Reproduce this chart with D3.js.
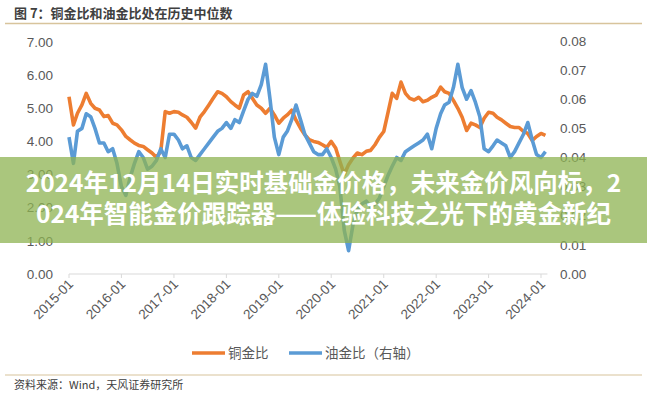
<!DOCTYPE html>
<html>
<head>
<meta charset="utf-8">
<script src="https://cdn.jsdelivr.net/npm/d3@7"></script>
<style>
  body { margin: 0; background: #fff; }
  svg { display: block; }
</style>
</head>
<body>
<svg width="647" height="400"></svg>
<script>
const svg = d3.select("svg");

const width = 647;
const height = 400;

// chart text
const title = "图 7：铜金比和油金比处在历史中位数";
const source = "资料来源：Wind，天风证券研究所";
const seriesNames = ["铜金比", "油金比（右轴）"];
const bannerLines = [
    "2024年12月14日实时基础金价格，未来金价风向标，2",
    "024年智能金价跟踪器——体验科技之光下的黄金新纪"
];

// months 2015-01 .. 2024-02
const firstMonth = "2015-01";
const lastMonth = "2024-02";
const tickYears = ["2015-01", "2016-01", "2017-01", "2018-01", "2019-01",
    "2020-01", "2021-01", "2022-01", "2023-01", "2024-01"];
const leftTicks = [0, 1, 2, 3, 4, 5, 6, 7];
const rightTicks = [0, 0.01, 0.02, 0.03, 0.04, 0.05, 0.06, 0.07, 0.08];

// copper / gold (left axis)
const copperGold = [
    5.35, 4.5, 4.85, 5.1, 5.45, 5.15, 5.0, 4.95, 4.75, 4.78,
    4.55, 4.5, 4.35, 4.15, 4.05, 3.95, 3.88, 3.85, 3.75, 3.65,
    3.52, 3.7, 4.9, 4.85, 4.9, 4.88, 4.8, 4.73, 4.58, 4.4,
    4.73, 4.9, 5.1, 5.3, 5.5, 5.45, 5.35, 5.2, 5.1, 5.0,
    5.4, 5.5, 5.3, 5.1, 5.0, 4.85, 5.0, 4.8, 4.55, 4.7,
    4.8, 4.94, 4.64, 4.4, 4.2, 4.05, 4.0, 3.97, 3.9, 3.82,
    4.0, 3.8, 3.4, 3.0, 3.3, 3.5, 3.65, 3.6, 3.7, 3.73,
    3.9, 4.12, 4.3, 4.9, 5.45, 5.3, 5.79, 5.45, 5.3, 5.25,
    5.33, 5.2, 5.24, 5.33, 5.4, 5.64, 5.5, 5.45, 5.24, 5.0,
    4.73, 4.33, 4.55, 4.5, 4.42, 4.7, 4.88, 4.85, 4.73, 4.65,
    4.55, 4.45, 4.42, 4.42, 4.3, 4.24, 4.03, 4.15, 4.24, 4.18
];

// oil / gold (right axis)
const oilGold = [
    0.047, 0.038, 0.049, 0.050, 0.055, 0.054, 0.050, 0.045, 0.045, 0.042,
    0.043, 0.038, 0.030, 0.027, 0.033, 0.038, 0.042, 0.040, 0.036, 0.037,
    0.039, 0.043, 0.040, 0.048, 0.048, 0.046, 0.043, 0.044, 0.040, 0.039,
    0.041, 0.043, 0.045, 0.047, 0.049, 0.050, 0.052, 0.050, 0.053, 0.052,
    0.056, 0.060, 0.062, 0.061, 0.065, 0.072, 0.060, 0.047, 0.041, 0.047,
    0.049, 0.053, 0.058, 0.053, 0.048, 0.045, 0.042, 0.041, 0.041, 0.043,
    0.040, 0.036, 0.030, 0.015, 0.008, 0.017, 0.022, 0.024, 0.025, 0.023,
    0.024, 0.026, 0.030, 0.034, 0.037, 0.040, 0.039, 0.042, 0.043, 0.044,
    0.045, 0.046, 0.048, 0.043, 0.050, 0.055, 0.058, 0.059, 0.064, 0.072,
    0.064, 0.060, 0.063, 0.059, 0.054, 0.043, 0.042, 0.044, 0.046, 0.045,
    0.044, 0.040, 0.042, 0.045, 0.048, 0.052, 0.046, 0.041, 0.040, 0.042
];

const parseMonth = d3.timeParse("%Y-%m");
const months = d3.timeMonth.range(parseMonth(firstMonth), d3.timeMonth.offset(parseMonth(lastMonth), 1));

const orange = "#ed7d31";
const blue = "#5b9bd5";
const axisGrey = "#595959";
const latin = "Liberation Sans, Arial, sans-serif";
const cjk = "'Noto Sans CJK SC', 'Noto Sans', sans-serif";

const x = d3.scaleTime()
    .domain([parseMonth(tickYears[0]), parseMonth(tickYears[tickYears.length - 1])])
    .range([69, 541]);
const yLeft = d3.scaleLinear().domain([0, 7]).range([274, 42]);
const yRight = d3.scaleLinear().domain([0, 0.08]).range([274, 41]);

svg.append("rect").attr("width", width).attr("height", height).attr("fill", "#fff");

// title + rule
svg.append("text")
    .attr("x", 14).attr("y", 18)
    .attr("font-family", cjk).attr("font-weight", "bold")
    .attr("font-size", 13).attr("fill", "#404040")
    .text(title);
svg.append("line")
    .attr("x1", 5).attr("x2", 642).attr("y1", 23.5).attr("y2", 23.5)
    .attr("stroke", "#d8c49c").attr("stroke-width", 1.5);

// left axis labels
svg.append("g").selectAll("text")
    .data(leftTicks).enter().append("text")
    .attr("x", 53).attr("y", d => yLeft(d)).attr("dy", "0.35em")
    .attr("text-anchor", "end")
    .attr("font-family", latin).attr("font-size", 13.5).attr("fill", axisGrey)
    .text(d => d3.format(".2f")(d));

// right axis labels
svg.append("g").selectAll("text")
    .data(rightTicks).enter().append("text")
    .attr("x", 560).attr("y", d => yRight(d)).attr("dy", "0.35em")
    .attr("font-family", latin).attr("font-size", 13.5).attr("fill", axisGrey)
    .text(d => d3.format(".2f")(d));

// x axis
const xAxis = svg.append("g");
xAxis.append("line")
    .attr("x1", x(months[0])).attr("x2", x(months[months.length - 1]) + 2)
    .attr("y1", 274).attr("y2", 274)
    .attr("stroke", "#d9d9d9").attr("stroke-width", 1);
xAxis.selectAll(".tick")
    .data(tickYears).enter().append("line")
    .attr("x1", d => x(parseMonth(d))).attr("x2", d => x(parseMonth(d)))
    .attr("y1", 274).attr("y2", 278)
    .attr("stroke", "#d9d9d9");
xAxis.selectAll("text")
    .data(tickYears).enter().append("text")
    .attr("transform", d => `translate(${x(parseMonth(d)) + 5},${285}) rotate(-45)`)
    .attr("text-anchor", "end")
    .attr("font-family", latin).attr("font-size", 13.5).attr("fill", axisGrey)
    .text(d => d);

// lines
const copperLine = d3.line()
    .x((d, i) => x(months[i]))
    .y(d => yLeft(d));
const oilLine = d3.line()
    .x((d, i) => x(months[i]))
    .y(d => yRight(d));

svg.append("path")
    .datum(copperGold)
    .attr("d", copperLine)
    .attr("fill", "none").attr("stroke", orange)
    .attr("stroke-width", 3.6).attr("stroke-linejoin", "round");
svg.append("path")
    .datum(oilGold)
    .attr("d", oilLine)
    .attr("fill", "none").attr("stroke", blue)
    .attr("stroke-width", 3.6).attr("stroke-linejoin", "round");

// legend
const legend = svg.append("g");
const legendItems = [
    { name: seriesNames[0], color: orange, x: 192 },
    { name: seriesNames[1], color: blue, x: 289 }
];
legendItems.forEach(item => {
    legend.append("line")
        .attr("x1", item.x).attr("x2", item.x + 33)
        .attr("y1", 353).attr("y2", 353)
        .attr("stroke", item.color).attr("stroke-width", 3.5);
    legend.append("text")
        .attr("x", item.x + 36).attr("y", 353).attr("dy", "0.35em")
        .attr("font-family", cjk).attr("font-size", 13.5).attr("fill", axisGrey)
        .text(item.name);
});

// source rule + text
svg.append("line")
    .attr("x1", 5).attr("x2", 642).attr("y1", 375).attr("y2", 375)
    .attr("stroke", "#d8c49c").attr("stroke-width", 1.2);
svg.append("text")
    .attr("x", 14).attr("y", 389)
    .attr("font-family", cjk).attr("font-size", 11).attr("fill", "#404040")
    .text(source);

// banner overlay (covers the middle of the chart, as in the picture)
svg.append("rect")
    .attr("x", 0).attr("y", 157).attr("width", width).attr("height", 86)
    .attr("fill", "#8db352").attr("fill-opacity", 0.75);
svg.append("g").selectAll("text")
    .data(bannerLines).enter().append("text")
    .attr("x", width / 2).attr("y", (d, i) => 192 + i * 31)
    .attr("text-anchor", "middle")
    .attr("font-family", cjk).attr("font-weight", "bold")
    .attr("font-size", 24.5).attr("fill", "#fff")
    .text(d => d);
</script>
</body>
</html>
